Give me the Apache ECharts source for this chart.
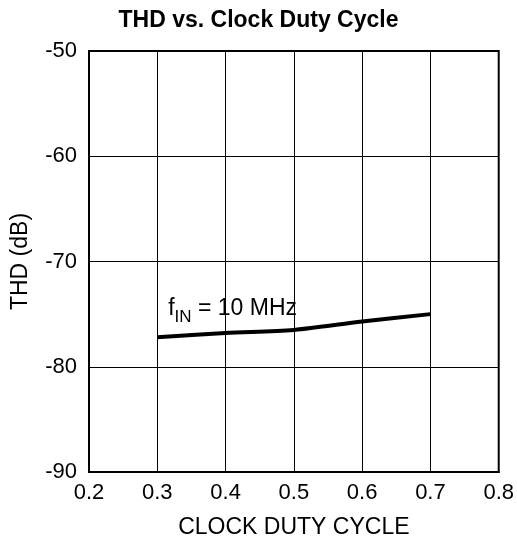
<!DOCTYPE html>
<html><head><meta charset="utf-8">
<script src="https://cdn.jsdelivr.net/npm/echarts@6/dist/echarts.min.js"></script>
<style>html,body{margin:0;padding:0;background:#fff}#c{width:517px;height:546px}</style>
</head><body><div id="c"></div>
<script>
const dutyCycle = [0.3, 0.4, 0.5, 0.6, 0.7];
const thd10MHz = [-77.2, -76.8, -76.5, -75.7, -75.0];
const xTicks = [0.2, 0.3, 0.4, 0.5, 0.6, 0.7, 0.8];
const yTicks = [-90, -80, -70, -60, -50];
const curveLabelPos = [0.316, -74.5];

const FONT = '"Liberation Sans", Arial, Helvetica, sans-serif';
const chart = echarts.init(document.getElementById('c'));
chart.setOption({
  animation: false,
  title: {
    text: 'THD vs. Clock Duty Cycle', left: 'center', top: 4,
    textStyle: {fontFamily: FONT, fontSize: 23, fontWeight: 'bold', color: '#000'}
  },
  grid: {left: 89, right: 17, top: 51, bottom: 74, show: true, borderColor: '#000', borderWidth: 2},
  xAxis: {
    type: 'value', min: xTicks[0], max: xTicks[xTicks.length - 1], interval: 0.1,
    name: 'CLOCK DUTY CYCLE', nameLocation: 'middle', nameGap: 44,
    nameTextStyle: {fontFamily: FONT, fontSize: 23, color: '#000'},
    axisLine: {show: true, lineStyle: {color: '#000', width: 2}},
    axisTick: {show: false},
    axisLabel: {fontFamily: FONT, fontSize: 22, color: '#000', margin: 10, formatter: v => v.toFixed(1)},
    splitLine: {show: true, lineStyle: {color: '#000', width: 1}}
  },
  yAxis: {
    type: 'value', min: yTicks[0], max: yTicks[yTicks.length - 1], interval: 10,
    name: 'THD (dB)', nameLocation: 'middle', nameGap: 57, nameRotate: 90,
    nameTextStyle: {fontFamily: FONT, fontSize: 23, color: '#000'},
    axisLine: {show: true, lineStyle: {color: '#000', width: 2}},
    axisTick: {show: false},
    axisLabel: {fontFamily: FONT, fontSize: 22, color: '#000', margin: 12},
    splitLine: {show: true, lineStyle: {color: '#000', width: 1}}
  },
  series: [{
    type: 'line', smooth: 0.3, symbol: 'none',
    data: dutyCycle.map((x, i) => [x, thd10MHz[i]]),
    lineStyle: {color: '#000', width: 4},
    markPoint: {
      symbol: 'circle', symbolSize: 0,
      data: [{coord: curveLabelPos}],
      label: {
        show: true, position: 'right', distance: 0,
        formatter: '{a|f}{b|IN}{a| = 10 MHz}',
        rich: {
          a: {fontFamily: FONT, fontSize: 23, color: '#000'},
          b: {fontFamily: FONT, fontSize: 17, color: '#000', verticalAlign: 'bottom', padding: [16, 0, 0, 0]}
        }
      }
    }
  }]
});
</script></body></html>
